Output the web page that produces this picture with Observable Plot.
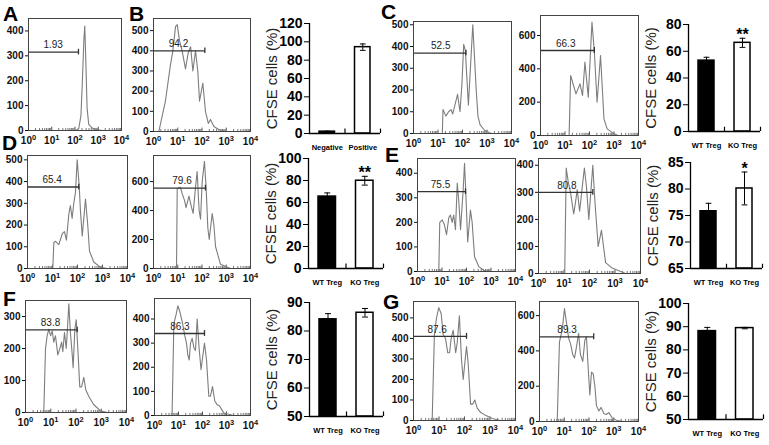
<!DOCTYPE html>
<html><head><meta charset="utf-8">
<script src="https://cdn.jsdelivr.net/npm/d3@7"></script>
<script src="https://cdn.jsdelivr.net/npm/@observablehq/plot@0.6"></script>
<style>
html,body{margin:0;padding:0;background:#fff;}
#fig{position:relative;width:769px;height:445px;overflow:hidden;font-family:'Liberation Sans',Arial,Helvetica,sans-serif;}
.letter{position:absolute;font-weight:bold;font-size:21px;line-height:15px;height:15px;color:#000;}
</style></head>
<body><div id="fig"></div>
<script>
// ---------- DATA ----------
// histograms: [fluorescence intensity, count]
const histA = [[110,0],[145,8],[180,60],[204,180],[240,360],[263,420],[288,300],[331,90],[389,25],[550,10],[890,3],[1580,0]];
const histB = [[1.66,0],[3.1,150],[5.0,330],[6.3,400],[8.1,520],[9.5,530],[11.8,450],[15.2,400],[20.8,310],[27,390],[34,420],[42,300],[54,400],[67,300],[79,150],[108,240],[139,100],[182,40],[224,60],[309,25],[490,10],[933,0]];
const histC1 = [[15,0],[16,110],[21,80],[27,100],[34,110],[40,90],[49,130],[63,180],[79,100],[95,230],[112,410],[131,380],[174,130],[263,500],[363,200],[427,80],[525,40],[794,15],[1510,0]];
const histC2 = [[14.7,0],[17,360],[28,250],[41,310],[52,240],[65,440],[89,230],[126,680],[158,500],[204,200],[282,480],[389,100],[525,40],[1020,10],[1450,0]];
const histD1 = [[10.3,0],[11.3,120],[13.2,125],[18,110],[24.5,160],[30,170],[36,130],[45,250],[52,290],[61,230],[71,300],[83,350],[97,500],[117,380],[132,260],[155,150],[209,320],[257,200],[302,80],[447,30],[832,5],[1550,0]];
const histD2 = [[8.9,0],[9.5,550],[13,560],[15,520],[19,470],[22,420],[29,500],[36,430],[43,380],[54,560],[63,670],[76,400],[87,340],[102,600],[126,740],[148,560],[174,280],[199,200],[263,380],[309,300],[363,150],[575,30],[1510,0]];
const histE1 = [[7.4,0],[8.1,200],[10.2,210],[12.6,190],[15.3,150],[19,220],[22,230],[26,200],[30,230],[35.5,170],[42,360],[49,280],[57,170],[73,330],[83,440],[93,330],[112,120],[145,250],[170,200],[213,60],[316,20],[510,5],[955,0]];
const histE2 = [[10.7,0],[12.2,390],[14.6,340],[18,300],[24,220],[28,260],[33,310],[41,230],[52,320],[63,390],[76,320],[94,200],[135,400],[162,270],[219,100],[295,160],[427,40],[776,20],[2570,0]];
const histF1 = [[5.3,0],[6.2,200],[7.2,240],[8.4,260],[9.8,240],[11.4,255],[13.2,220],[15.4,240],[19,180],[23,200],[27,220],[30,190],[35,250],[41,200],[45,250],[52,340],[60,250],[71,180],[77,140],[90,260],[102,290],[118,200],[141,80],[166,80],[204,110],[245,70],[323,50],[500,25],[933,5],[1740,0]];
const histF2 = [[5.4,0],[6.4,380],[8,420],[9.4,455],[11.4,430],[14.2,390],[18.4,330],[21.5,300],[24.5,250],[28,230],[31.6,300],[37,320],[44,280],[51,270],[60,400],[72,280],[87,190],[107,260],[121,300],[147,230],[183,80],[215,80],[261,120],[325,60],[405,45],[510,40],[775,10],[2000,0]];
const histG1 = [[5.4,0],[6.6,420],[8,500],[9.8,550],[12.2,520],[14.5,420],[18,400],[22,330],[26,330],[30,400],[36,440],[45,330],[52,380],[63,510],[76,300],[89,200],[103,280],[120,360],[139,280],[173,80],[212,80],[253,100],[316,60],[427,40],[665,25],[1230,10],[2570,0]];
const histG2 = [[5.2,0],[6.4,450],[8.3,520],[10.2,640],[12.3,560],[15.2,470],[18,440],[22,380],[26,360],[31,420],[38,500],[45,380],[56,340],[68,460],[79,480],[93,300],[108,150],[126,280],[148,270],[173,200],[200,90],[251,60],[309,80],[398,45],[490,40],[631,50],[871,20],[1380,5],[2570,0]];

// gates (marker bars) for the 12 histograms, in order A,B,C1,C2,D1,D2,E1,E2,F1,F2,G1,G2
const gateLabels = ["1.93","94.2","52.5","66.3","65.4","79.6","75.5","80.8","83.8","86.3","87.6","89.3"];
const gateEnds   = [141, 131, 139, 158, 112, 138, 91, 135, 112, 121, 120, 155];
const gateLevels = [315, 400, 370, 510, 375, 555, 325, 300, 258, 340, 410, 480];
const gateLabelX = [11.5, 10.7, 13, 10.7, 9.7, 15, 8.7, 13, 9.8, 11.4, 8.5, 13];

// histogram axes
const decades = [1, 10, 100, 1000, 10000];
const histYMax = [450, 560, 515, 720, 520, 780, 460, 425, 350, 485, 580, 680];
const ticks100_400 = [0,100,200,300,400];
const ticks100_500 = [0,100,200,300,400,500];
const ticks100_300 = [0,100,200,300];
const ticks200_600 = [0,200,400,600];

// bar charts
const catsB = ["Negative", "Positive"];
const catsT = ["WT Treg", "KO Treg"];
const barB = [2, 94.2],  errB = [0.5, 3.5], starB = ["", ""];
const barC = [53, 66.3], errC = [2.5, 3.4], starC = ["", "**"];
const barD = [65.4, 79.8], errD = [3.3, 4], starD = ["", "**"];
const barE = [75.8, 80.1], errE = [1.5, 3.1], starE = ["", "*"];
const barF = [84.1, 86.4], errF = [2, 1.5], starF = ["", ""];
const barG = [88.1, 89.4], errG = [1.6, 0.3], starG = ["", ""];
const yLabel = "CFSE cells (%)";

// ---------- LAYOUT ----------
const FONT = "'Liberation Sans', Arial, Helvetica, sans-serif";
const fig = document.getElementById("fig");
function place(svg, left, top) {
  svg.style.position = "absolute";
  svg.style.left = left + "px";
  svg.style.top = top + "px";
  svg.style.maxWidth = "none";
  fig.appendChild(svg);
}
const minorTicks = [];
for (let k = 0; k < 4; k++) for (let m = 2; m < 10; m++) minorTicks.push(m * Math.pow(10, k));

function hist(box, data, g, yticks) {
  const [L, R, T, B] = box;
  const ML = 30, MR = 12, MT = 6, MB = 22;
  const ymax = histYMax[g];
  const gate = {end: gateEnds[g], level: gateLevels[g], label: gateLabels[g], lx: gateLabelX[g]};
  const svg = Plot.plot({
    width: R - L + ML + MR, height: B - T + MT + MB,
    marginLeft: ML, marginRight: MR, marginTop: MT, marginBottom: MB,
    style: {fontFamily: FONT, background: "transparent", overflow: "visible", color: "#111"},
    x: {type: "log", domain: [1, 1e4]},
    y: {domain: [0, ymax]},
    marks: [
      Plot.ruleX(minorTicks, {y1: 0, y2: ymax * 0.018, stroke: "#555", strokeWidth: 0.8}),
      Plot.ruleX(decades, {y1: 0, y2: ymax * 0.03, stroke: "#555"}),
      Plot.line(data, {x: d => d[0], y: d => d[1], stroke: "#7d7d7d", strokeWidth: 1.1}),
      Plot.link([gate], {x1: 1, x2: d => d.end, y1: d => d.level, y2: d => d.level, stroke: "#333", strokeWidth: 1.3}),
      Plot.ruleX([gate], {x: d => d.end, y1: d => d.level - ymax * 0.025, y2: d => d.level + ymax * 0.025, stroke: "#333", strokeWidth: 1.3}),
      Plot.text([gate], {x: d => d.lx, y: d => d.level, text: d => d.label, dy: -7, fontSize: 10, fill: "#222"}),
      Plot.frame({stroke: "#444"}),
      Plot.axisY(yticks, {tickSize: 3, tickPadding: 2, fontSize: 10, fontWeight: "bold", label: null}),
      Plot.axisX(decades, {tickSize: 0, tickPadding: 6, fontSize: 10, fontWeight: "bold", label: null,
        tickFormat: d => "10^" + Math.round(Math.log10(d))})
    ]
  });
  d3.select(svg).selectAll('g[aria-label="x-axis tick label"] text').each(function() {
    const s = this.textContent.split("^");
    this.textContent = "";
    d3.select(this).append("tspan").text(s[0]);
    d3.select(this).append("tspan").attr("dy", "-0.45em").attr("font-size", "7.5px").text(s[1]);
  });
  place(svg, L - ML, T - MT);
}

function bars(box, cats, vals, errs, stars, domain, yticks) {
  const [L, R, T, B] = box;
  const ML = 50, MR = 6, MT = 10, MB = 22;
  const [lo, hi] = domain;
  const rows = cats.map((c, i) => ({c, i, v: vals[i], e: errs[i], s: stars[i]}));
  const n = cats.length;
  const svg = Plot.plot({
    width: R - L + ML + MR, height: B - T + MT + MB,
    marginLeft: ML, marginRight: MR, marginTop: MT, marginBottom: MB,
    style: {fontFamily: FONT, background: "transparent", overflow: "visible", color: "#000"},
    x: {domain: [0, n], axis: null},
    y: {domain, axis: null},
    marks: [
      Plot.rect(rows, {filter: d => d.i === 0, x1: d => d.i, x2: d => d.i + 1, y1: lo, y2: d => d.v, insetLeft: 10, insetRight: 10, fill: "#000", stroke: "#000", strokeWidth: 1.5}),
      Plot.rect(rows, {filter: d => d.i === 1, x1: d => d.i, x2: d => d.i + 1, y1: lo, y2: d => d.v, insetLeft: 10, insetRight: 10, fill: "#fff", stroke: "#000", strokeWidth: 1.5}),
      Plot.ruleX(rows, {x: d => d.i + 0.5, y1: d => d.v - d.e, y2: d => d.v + d.e, stroke: "#000", strokeWidth: 1}),
      Plot.link(rows, {x1: d => d.i + 0.42, x2: d => d.i + 0.58, y1: d => d.v + d.e, y2: d => d.v + d.e, stroke: "#000", strokeWidth: 1}),
      Plot.link(rows, {x1: d => d.i + 0.42, x2: d => d.i + 0.58, y1: d => d.v - d.e, y2: d => d.v - d.e, stroke: "#000", strokeWidth: 1}),
      Plot.ruleX([0], {y1: lo, y2: hi, stroke: "#000", strokeWidth: 1.3}),
      Plot.ruleY([lo], {x1: 0, x2: n, stroke: "#000", strokeWidth: 1.3}),
      Plot.ruleX([1, 2], {y1: lo, y2: lo + (hi - lo) * 0.04, stroke: "#000", strokeWidth: 1.2}),
      Plot.axisY(yticks, {tickSize: 5, tickPadding: 2, fontSize: 14, fontWeight: "bold", label: null}),
      Plot.text(rows, {x: d => d.i + 0.5, y: lo, text: d => d.c, dy: 14, fontSize: 7.5, fontWeight: "bold"}),
      Plot.text(rows.filter(d => d.s), {x: d => d.i + 0.5, y: d => d.v + d.e, text: d => d.s, dy: -3, fontSize: 16, fontWeight: "bold"}),
      Plot.text([yLabel], {text: d => d, frameAnchor: "left", textAnchor: "middle", lineAnchor: "middle", rotate: -90, dx: -37, fontSize: 15, fill: "#222"})
    ]
  });
  place(svg, L - ML, T - MT);
}

// row 1
hist([28, 121, 18, 130], histA, 0, ticks100_400);
hist([153, 250, 18, 131], histB, 1, ticks100_500);
bars([309, 380, 23, 133], catsB, barB, errB, starB, [0, 120], [0,20,40,60,80,100,120]);
hist([413, 511, 21, 133], histC1, 2, ticks100_500);
hist([540, 638, 15, 135], histC2, 3, ticks200_600);
bars([688, 760, 24, 131], catsT, barC, errC, starC, [0, 80], [0,20,40,60,80]);
// row 2
hist([27, 127, 155, 268], histD1, 4, ticks100_500);
hist([153, 250, 155, 268], histD2, 5, ticks200_600);
bars([308, 383, 158, 268], catsT, barD, errD, starD, [0, 100], [0,20,40,60,80,100]);
hist([417, 515, 158, 271], histE1, 6, ticks100_400);
hist([538, 640, 158, 273], histE2, 7, ticks100_400);
bars([690, 762, 162, 268], catsT, barE, errE, starE, [65, 85], [65,70,75,80,85]);
// row 3
hist([25, 126, 300, 412], histF1, 8, ticks100_300);
hist([154, 250, 298, 415], histF2, 9, ticks100_400);
bars([309, 383, 302, 416], catsT, barF, errF, starF, [50, 90], [50,60,70,80,90]);
hist([413, 515, 301, 420], histG1, 10, ticks100_500);
hist([539, 638, 301, 421], histG2, 11, ticks200_600);
bars([688, 763, 303, 419], catsT, barG, errG, starG, [50, 100], [50,60,70,80,90,100]);

// panel letters
const letters = [["A", 3, 6], ["B", 129, 6], ["C", 381, 4], ["D", 2, 135], ["E", 385, 147], ["F", 3, 291], ["G", 383, 294]];
for (const [t, x, y] of letters) {
  const d = document.createElement("div");
  d.className = "letter";
  d.textContent = t;
  d.style.left = x + "px";
  d.style.top = y + "px";
  fig.appendChild(d);
}
</script>
</body></html>
